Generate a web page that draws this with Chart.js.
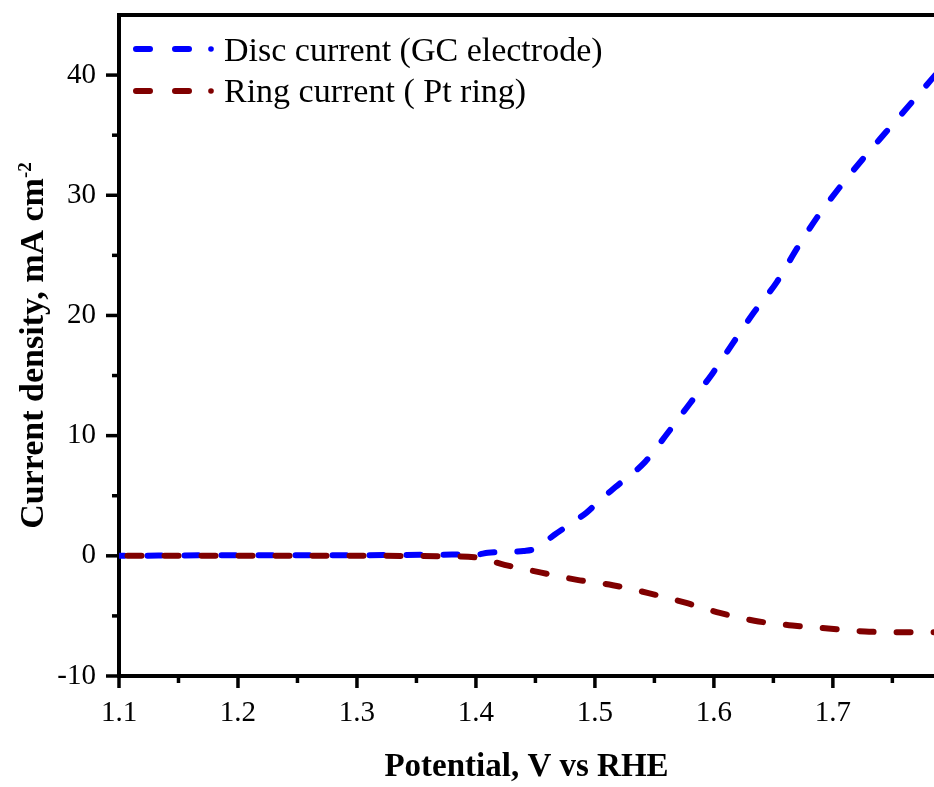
<!DOCTYPE html>
<html>
<head>
<meta charset="utf-8">
<script src="https://cdn.jsdelivr.net/npm/chart.js@4.4.1/dist/chart.umd.min.js"></script>
<style>
  html, body { margin: 0; padding: 0; background: #ffffff; overflow: hidden; }
  #wrap { width: 934px; height: 787px; }
</style>
</head>
<body>
<div id="wrap"><canvas id="c" width="934" height="787"></canvas></div>
<script>
// ---- Data ----
const discPotential = [1.10, 1.20, 1.30, 1.38, 1.40, 1.41, 1.43, 1.44, 1.45, 1.466, 1.48, 1.493, 1.504, 1.517, 1.542, 1.561, 1.58, 1.599, 1.616, 1.634, 1.653, 1.67, 1.687, 1.706, 1.725, 1.745, 1.766, 1.786];
const discCurrent   = [0.0, 0.05, 0.05, 0.1, 0.1, 0.25, 0.35, 0.4, 0.6, 1.75, 2.7, 3.6, 4.6, 5.7, 7.8, 10.2, 12.7, 15.2, 17.7, 20.3, 22.8, 25.6, 28.2, 30.7, 33.0, 35.3, 37.7, 40.0];

const ringPotential = [1.10, 1.20, 1.30, 1.38, 1.401, 1.424, 1.455, 1.485, 1.515, 1.545, 1.576, 1.605, 1.634, 1.666, 1.696, 1.727, 1.758, 1.786];
const ringCurrent   = [0.0, 0.0, 0.0, -0.05, -0.15, -0.75, -1.4, -2.0, -2.45, -3.1, -3.9, -4.75, -5.4, -5.8, -6.05, -6.3, -6.35, -6.35];

const seriesNames = ['Disc current (GC electrode)', 'Ring current ( Pt ring)'];
const seriesColors = ['#0000ff', '#800000'];

const xMajorTicks = [1.1, 1.2, 1.3, 1.4, 1.5, 1.6, 1.7];
const xMinorTicks = [1.15, 1.25, 1.35, 1.45, 1.55, 1.65, 1.75];
const yMajorTicks = [-10, 0, 10, 20, 30, 40];
const yMinorTicks = [-5, 5, 15, 25, 35];

const xTitle = 'Potential, V vs RHE';
const yTitleMain = 'Current density, mA cm';
const yTitleSup = '-2';

const SERIF = '"Liberation Serif", "Times New Roman", Times, serif';

const toPoints = (xs, ys) => xs.map((x, i) => ({ x: x, y: ys[i] }));

const axisDecor = {
  id: 'axisDecor',
  afterDraw(chart) {
    const ctx = chart.ctx;
    const area = chart.chartArea;
    const xs = chart.scales.x, ys = chart.scales.y;
    ctx.save();
    ctx.strokeStyle = '#000';
    ctx.lineCap = 'butt';
    // top frame line
    ctx.lineWidth = 4;
    ctx.beginPath();
    ctx.moveTo(area.left - 2, area.top);
    ctx.lineTo(area.right, area.top);
    ctx.stroke();
    // ticks
    ctx.lineWidth = 3.5;
    const xb = xs.top;
    xMajorTicks.forEach(v => { const p = xs.getPixelForValue(v); ctx.beginPath(); ctx.moveTo(p, xb); ctx.lineTo(p, xb + 12); ctx.stroke(); });
    xMinorTicks.forEach(v => { const p = xs.getPixelForValue(v); ctx.beginPath(); ctx.moveTo(p, xb); ctx.lineTo(p, xb + 7); ctx.stroke(); });
    const yl = ys.right;
    yMajorTicks.forEach(v => { const p = ys.getPixelForValue(v); ctx.beginPath(); ctx.moveTo(yl, p); ctx.lineTo(yl - 13, p); ctx.stroke(); });
    yMinorTicks.forEach(v => { const p = ys.getPixelForValue(v); ctx.beginPath(); ctx.moveTo(yl, p); ctx.lineTo(yl - 7, p); ctx.stroke(); });

    // y title with superscript
    ctx.fillStyle = '#000';
    const mainFont = 'bold 34px ' + SERIF;
    const supFont = 'bold 19px ' + SERIF;
    ctx.font = mainFont;
    const wMain = ctx.measureText(yTitleMain).width;
    ctx.font = supFont;
    const wSup = ctx.measureText(yTitleSup).width;
    const total = wMain + wSup;
    const cy = (area.top + area.bottom) / 2;
    ctx.translate(43, cy);
    ctx.rotate(-Math.PI / 2);
    ctx.textBaseline = 'alphabetic';
    ctx.textAlign = 'left';
    ctx.font = mainFont;
    ctx.fillText(yTitleMain, -total / 2, 0);
    ctx.font = supFont;
    ctx.fillText(yTitleSup, -total / 2 + wMain, -12);
    ctx.restore();

    // legend
    ctx.save();
    const rows = [49, 91];
    const baselines = [61, 102];
    rows.forEach((ry, i) => {
      ctx.strokeStyle = seriesColors[i];
      ctx.fillStyle = seriesColors[i];
      ctx.lineWidth = 6;
      ctx.lineCap = 'round';
      ctx.beginPath();
      ctx.moveTo(136, ry); ctx.lineTo(150, ry);
      ctx.moveTo(175, ry); ctx.lineTo(189, ry);
      ctx.stroke();
      ctx.beginPath();
      ctx.arc(211, ry, 2.8, 0, Math.PI * 2);
      ctx.fill();
      ctx.fillStyle = '#000';
      ctx.font = '34px ' + SERIF;
      ctx.textBaseline = 'alphabetic';
      ctx.textAlign = 'left';
      ctx.fillText(seriesNames[i], 224, baselines[i]);
    });
    ctx.restore();
  }
};

new Chart(document.getElementById('c'), {
  type: 'line',
  data: {
    datasets: [
      {
        label: seriesNames[1],
        data: toPoints(ringPotential, ringCurrent),
        borderColor: seriesColors[1],
        borderWidth: 6,
        borderDash: [14, 23],
        borderDashOffset: 28.5,
        borderCapStyle: 'round',
        pointRadius: 0,
        fill: false,
        cubicInterpolationMode: 'monotone',
        order: 0
      },
      {
        label: seriesNames[0],
        data: toPoints(discPotential, discCurrent),
        borderColor: seriesColors[0],
        borderWidth: 6,
        borderDash: [14, 23],
        borderDashOffset: 8.5,
        borderCapStyle: 'round',
        pointRadius: 0,
        fill: false,
        cubicInterpolationMode: 'monotone',
        order: 1
      }
    ]
  },
  options: {
    responsive: false,
    animation: false,
    events: [],
    layout: { padding: { top: 15, left: 0, right: 0, bottom: 0 } },
    plugins: { legend: { display: false }, tooltip: { enabled: false } },
    scales: {
      x: {
        type: 'linear',
        min: 1.1,
        max: 1.785,
        afterFit(s) { s.height = 111; s.paddingLeft = 0; s.paddingRight = 0; },
        grid: { display: false, drawTicks: false, tickLength: 0 },
        border: { display: true, color: '#000', width: 4 },
        ticks: {
          stepSize: 0.1,
          includeBounds: false,
          color: '#000',
          padding: 20,
          maxRotation: 0,
          autoSkip: false,
          font: { family: SERIF, size: 29 },
          callback: v => Number(v).toFixed(1)
        },
        title: {
          display: true,
          text: xTitle,
          color: '#000',
          font: { family: SERIF, size: 33, weight: 'bold' },
          padding: { top: 0, bottom: 0 }
        }
      },
      y: {
        type: 'linear',
        min: -10,
        max: 45,
        afterFit(s) { s.width = 119; s.paddingTop = 0; s.paddingBottom = 0; },
        grid: { display: false, drawTicks: false, tickLength: 0 },
        border: { display: true, color: '#000', width: 4 },
        ticks: {
          stepSize: 10,
          includeBounds: false,
          color: '#000',
          padding: 23,
          font: { family: SERIF, size: 29 },
          callback: v => String(v)
        }
      }
    }
  },
  plugins: [axisDecor]
});
</script>
</body>
</html>
